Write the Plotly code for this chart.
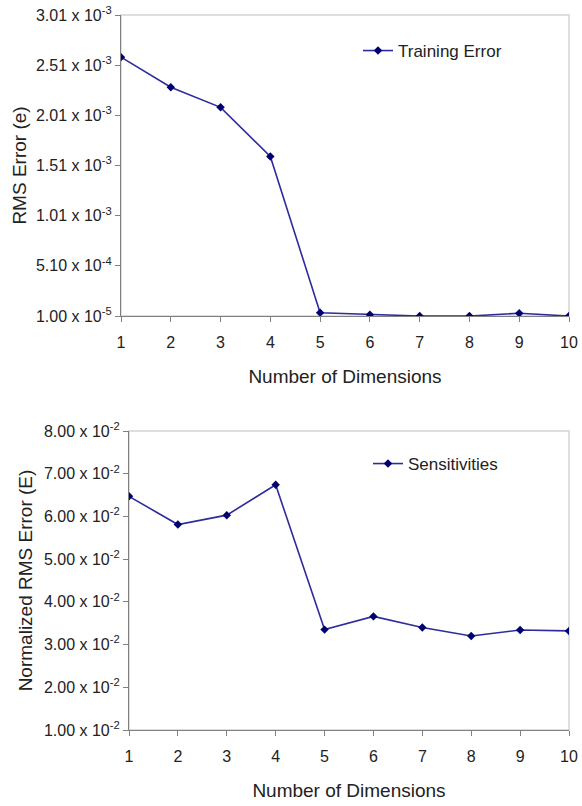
import plotly.graph_objects as go

dims = [1, 2, 3, 4, 5, 6, 7, 8, 9, 10]
training_error = [2.59e-3, 2.29e-3, 2.09e-3, 1.60e-3, 4.3e-5, 2.3e-5, 1.0e-5, 1.0e-5, 3.7e-5, 1.0e-5]
sensitivities = [6.47e-2, 5.81e-2, 6.03e-2, 6.74e-2, 3.35e-2, 3.66e-2, 3.40e-2, 3.20e-2, 3.34e-2, 3.32e-2]

top_tickvals = [1.0e-5, 5.1e-4, 1.01e-3, 1.51e-3, 2.01e-3, 2.51e-3, 3.01e-3]
top_ticktext = ["1.00 x 10<sup>-5</sup>", "5.10 x 10<sup>-4</sup>", "1.01 x 10<sup>-3</sup>",
                "1.51 x 10<sup>-3</sup>", "2.01 x 10<sup>-3</sup>", "2.51 x 10<sup>-3</sup>",
                "3.01 x 10<sup>-3</sup>"]
bot_tickvals = [0.01, 0.02, 0.03, 0.04, 0.05, 0.06, 0.07, 0.08]
bot_ticktext = ["%.2f x 10<sup>-2</sup>" % (v * 100) for v in bot_tickvals]

W, H = 582, 806
FONT = "Liberation Sans, Arial, sans-serif"
TXT = "#222222"
LINE = "#2c2c9c"
MARK = "#000070"

fig = go.Figure()
fig.add_trace(go.Scatter(x=dims, y=training_error, mode="lines+markers", name="Training Error",
                         line=dict(color=LINE, width=1.6),
                         marker=dict(symbol="diamond", size=6.5, color=MARK),
                         xaxis="x", yaxis="y", legend="legend"))
fig.add_trace(go.Scatter(x=dims, y=sensitivities, mode="lines+markers", name="Sensitivities",
                         line=dict(color=LINE, width=1.6),
                         marker=dict(symbol="diamond", size=6.5, color=MARK),
                         xaxis="x2", yaxis="y2", legend="legend2"))

def px_x(p):
    return p / W

def px_y(p):
    return 1 - p / H

xcommon = dict(range=[1, 10], tickvals=dims, ticks="outside", ticklen=5, tickcolor="#808080",
               showline=True, linecolor="#808080", linewidth=1.2, showgrid=False, zeroline=False,
               automargin=False,
               tickfont=dict(family=FONT, size=16, color=TXT), ticklabelstandoff=7,
               title=dict(text="Number of Dimensions", font=dict(family=FONT, size=19, color=TXT), standoff=19))
ycommon = dict(ticks="outside", ticklen=5, tickcolor="#808080",
               showline=True, linecolor="#808080", linewidth=1.2, showgrid=False, zeroline=False,
               automargin=False,
               tickfont=dict(family=FONT, size=16, color=TXT))

fig.update_layout(
    width=W, height=H, margin=dict(l=0, r=0, t=0, b=0),
    paper_bgcolor="white", plot_bgcolor="white",
    showlegend=True,
    xaxis=dict(domain=[px_x(121), px_x(569)], anchor="y", **xcommon),
    yaxis=dict(domain=[px_y(316), px_y(15)], anchor="x", range=[1.0e-5, 3.01e-3],
               tickvals=top_tickvals, ticktext=top_ticktext,
               title=dict(text="RMS Error (e)", font=dict(family=FONT, size=19, color=TXT), standoff=4),
               **ycommon),
    xaxis2=dict(domain=[px_x(129), px_x(569)], anchor="y2", **xcommon),
    yaxis2=dict(domain=[px_y(730), px_y(431)], anchor="x2", range=[0.01, 0.08],
                tickvals=bot_tickvals, ticktext=bot_ticktext,
                title=dict(text="Normalized RMS Error (E)", font=dict(family=FONT, size=19, color=TXT), standoff=6),
                **ycommon),
    legend=dict(x=px_x(358), y=px_y(33), xanchor="left", yanchor="top", bgcolor="rgba(0,0,0,0)",
                font=dict(family=FONT, size=17, color=TXT), itemwidth=30),
    legend2=dict(x=px_x(368), y=px_y(446), xanchor="left", yanchor="top", bgcolor="rgba(0,0,0,0)",
                 font=dict(family=FONT, size=17, color=TXT), itemwidth=30),
)

for xr, yr in (("x", "y"), ("x2", "y2")):
    fig.add_shape(type="rect", xref=xr + " domain", yref=yr + " domain", x0=0, x1=1, y0=0, y1=1,
                  line=dict(color="#d4d4d4", width=1.5), layer="below")

fig.write_html("out.html")
